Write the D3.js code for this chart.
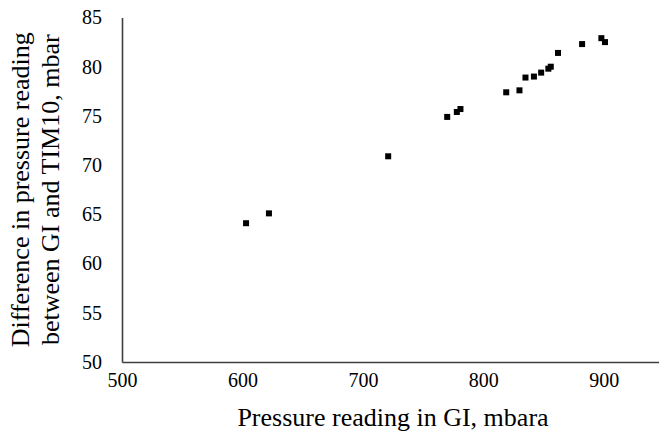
<!DOCTYPE html>
<html>
<head>
<meta charset="utf-8">
<script src="https://cdn.jsdelivr.net/npm/d3@7"></script>
<style>
  body { margin: 0; background: #fff; }
  svg { display: block; }
</style>
</head>
<body>
<div id="chart"></div>
<script>
// Readings
const pressureGI = [603, 622, 721, 770, 778, 781, 819, 830, 835, 842, 848, 854, 856, 862, 882, 898, 901];
const pressureDiff = [64.1, 65.1, 70.9, 74.9, 75.4, 75.7, 77.4, 77.6, 78.9, 79.0, 79.4, 79.8, 80.0, 81.4, 82.3, 82.9, 82.5];
const xTicks = [500, 600, 700, 800, 900];
const yTicks = [50, 55, 60, 65, 70, 75, 80, 85];

const points = pressureGI.map((p, i) => ({ x: p, y: pressureDiff[i] }));

const W = 659, H = 435;
const plotLeft = 122, plotTop = 17.5, plotBottom = 362, plotRight = 664;
const serif = "'Liberation Serif', 'Times New Roman', serif";

const svg = d3.select("#chart")
    .append("svg")
    .attr("width", W)
    .attr("height", H)
    .style("font-family", serif);

// scales
const x = d3.scaleLinear().domain([500, 950]).range([plotLeft, plotRight]);
const y = d3.scaleLinear().domain([50, 85]).range([plotBottom, plotTop]);

// x axis (line only, no tick marks)
const xAxis = svg.append("g")
    .attr("transform", `translate(0, ${plotBottom})`)
    .call(d3.axisBottom(x).tickValues(xTicks).tickSize(0).tickPadding(11).tickFormat(d3.format("d")));
xAxis.select(".domain").attr("stroke", "#404040").attr("stroke-width", 1.6);
xAxis.selectAll("text")
    .style("font-family", serif)
    .style("font-size", "20px")
    .attr("fill", "#000");

// y axis
const yAxis = svg.append("g")
    .attr("transform", `translate(${plotLeft}, 0)`)
    .call(d3.axisLeft(y).tickValues(yTicks).tickSize(0).tickPadding(20).tickFormat(d3.format("d")));
yAxis.select(".domain").attr("stroke", "#404040").attr("stroke-width", 1.6);
yAxis.selectAll("text")
    .style("font-family", serif)
    .style("font-size", "20px")
    .attr("fill", "#000");

// points
const s = 6;
svg.selectAll("rect.pt")
    .data(points)
    .join("rect")
    .attr("class", "pt")
    .attr("x", d => x(d.x) - s / 2)
    .attr("y", d => y(d.y) - s / 2)
    .attr("width", s)
    .attr("height", s)
    .attr("fill", "#000");

// x axis title
svg.append("text")
    .attr("x", (plotLeft + plotRight) / 2)
    .attr("y", 426)
    .attr("text-anchor", "middle")
    .style("font-size", "26px")
    .text("Pressure reading in GI, mbara");

// y axis title, two lines
const midY = (plotTop + plotBottom) / 2;
[["Difference in pressure reading", 29], ["between GI and TIM10, mbar", 59]].forEach(([t, bx]) => {
    svg.append("text")
        .attr("transform", `translate(${bx}, ${midY}) rotate(-90)`)
        .attr("text-anchor", "middle")
        .style("font-size", "26px")
        .text(t);
});
</script>
</body>
</html>
